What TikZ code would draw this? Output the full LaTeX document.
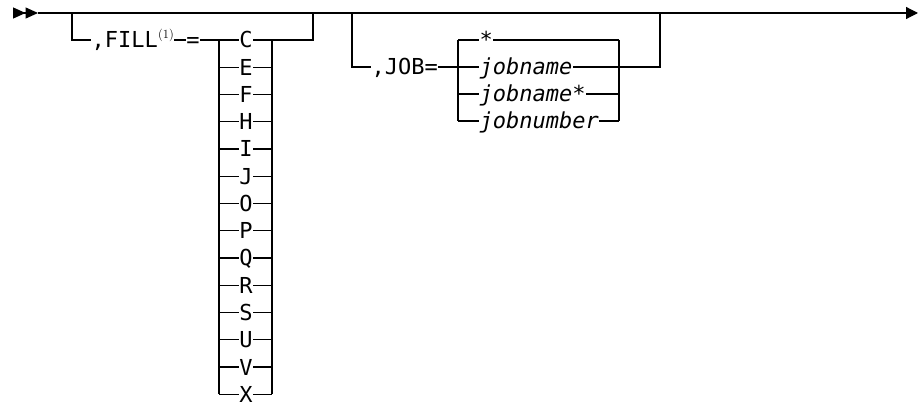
\documentclass[tikz,border=0pt]{standalone}
\usepackage{fontspec}
\setmonofont{DejaVu Sans Mono}
\usetikzlibrary{arrows.meta}

\begin{document}
\begin{tikzpicture}[
            x = 1pt, y = -1pt, % pixel grid, y downwards
            line width = 1.2pt, % rail thickness
            word/.style = {font=\ttfamily\fontsize{22}{22}\selectfont, inner sep=0pt, text height=16pt, text depth=0pt},
            var/.style = {word, font=\ttfamily\itshape\fontsize{22}{22}\selectfont, anchor=west},
            note/.style = {font=\fontsize{12.5}{12.5}\selectfont, inner sep=0pt}
        ]
\useasboundingbox (0,0) rectangle (922,406);

% main line
\coordinate (in) at (13,13);
\coordinate (start) at (38,13);
\coordinate (end) at (918,13);
\draw[-{Triangle[length=12.5pt,width=11pt]Triangle[length=12.5pt,width=11pt]}] (in) -- (start);
\draw[-{Triangle[length=12pt,width=12pt]}] (start) -- (end);

% FILL branch
\coordinate (F1) at (72,13);
\coordinate (F2) at (72,40);
\node[word, anchor=west] (fill) at (91,40) {,FILL};
\node[note] (fn) at (166,35) {(1)};
\node[word] (eq) at (193,40) {=};
\coordinate (FL) at (219,40);
\coordinate (FR) at (272,40);
\coordinate (F3) at (313,40);
\coordinate (F4) at (313,13);
\draw (F1) -- (F2) -- (fill);
\draw (fn.east |- eq) -- (eq) -- (FL);
\draw (FR) -- (F3) -- (F4);

\foreach \c [count=\i from 0] in {C,E,F,H,I,J,O,P,Q,R,S,U,V,X} {
  \node[word] (f\c) at (246,40+27.25*\i) {\c};
  \coordinate (fl\c) at (219,40+27.25*\i);
  \coordinate (fr\c) at (272,40+27.25*\i);
  \draw (fl\c) -- (f\c) -- (fr\c);
}
\draw (flC) -- (flX);
\draw (frC) -- (frX);

% JOB branch
\coordinate (J1) at (352,13);
\coordinate (J2) at (352,67);
\node[word, anchor=west] (job) at (371,67) {,JOB=};
\coordinate (J3) at (660,67);
\coordinate (J4) at (660,13);
\draw (J1) -- (J2) -- (job);

\node[word, anchor=west] (j0) at (479,40) {*};
\node[var] (j1) at (479,67) {jobname};
\node[var] (j2) at (479,94) {jobname*};
\node[var] (j3) at (479,121) {jobnumber};
\foreach \i in {0,...,3} {
  \coordinate (jl\i) at (458,40+27*\i);
  \coordinate (jr\i) at (619,40+27*\i);
  \draw (jl\i) -- (j\i) -- (jr\i);
}
\draw (job) -- (jl1);
\draw (jl0) -- (jl3);
\draw (jr0) -- (jr3);
\draw (jr1) -- (J3) -- (J4);
\end{tikzpicture}
\end{document}
